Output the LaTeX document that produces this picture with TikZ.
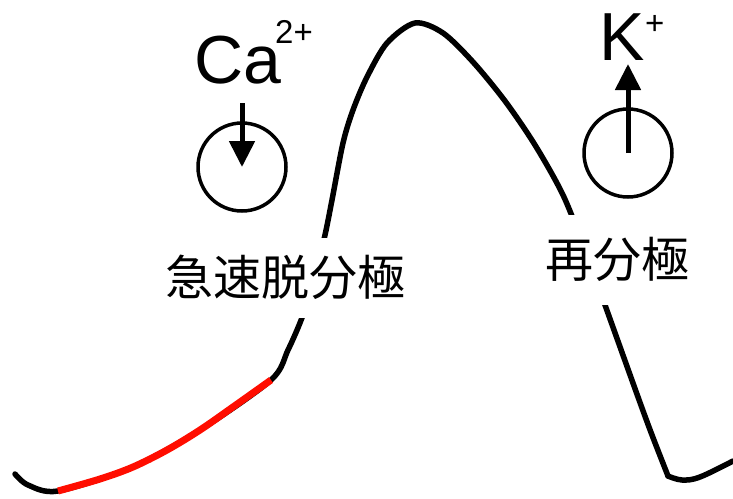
\documentclass[tikz,border=0pt]{standalone}
\usepackage{fontspec}
\setmainfont{Liberation Sans}
\newfontfamily\cjk{Noto Sans CJK JP}
\usetikzlibrary{arrows.meta}
\begin{document}
\begin{tikzpicture}[x=1pt,y=-1pt,
  curve/.style={line width=5.5pt, line cap=round, line join=round},
  ion/.style={inner sep=0pt, anchor=base west, font=\fontsize{68}{68}\selectfont},
  charge/.style={inner sep=0pt, anchor=base west, font=\fontsize{33}{33}\selectfont},
  channel/.style={circle, draw, line width=3.5pt, minimum size=88pt, inner sep=0pt},
  flux/.style={line width=5pt, -{Triangle[length=26pt,width=25pt]}},
  phase/.style={fill=white, inner xsep=4pt, font=\cjk\fontsize{48}{48}\selectfont, text height=40pt, text depth=6pt}]
\useasboundingbox (0,0) rectangle (733,498);
% action potential curve
\draw[curve] plot[smooth, tension=0.5] coordinates {
  (15,474) (28,485) (58,491) (133,467) (200,430) (271,380) (288,350) (303,315)
  (315,275) (325,235) (332,200) (343,143) (353,110) (367,77) (387,43) (415,23)
  (443,33) (473,62) (505,101) (535,145) (563,195) (585,250) (605,305) (638,397)
  (652,435) (668,476)};
\draw[curve] plot[smooth, tension=0.6] coordinates {(668,476) (682,480) (700,477) (733,461)};
% red segment
\draw[line width=7pt, red!90!orange] plot[smooth, tension=0.55] coordinates {
  (58,491) (100,479) (133,467) (167,450) (200,430) (233,407) (271,380)};
% labels hiding the curve
\node[phase, inner ysep=17pt] (dep) at (285,278) {急速脱分極};
\node[phase, inner ysep=22pt] (rep) at (617,260) {再分極};
% Ca channel
\node[ion] (ca) at (194,83) {Ca};
\node[charge] (ca2) at (275,43) {2+};
\node[channel] (cach) at (242,167) {};
\coordinate (castart) at (242,103);
\draw[flux] (castart) -- (cach.center);
% K channel
\node[ion] (k) at (599,60) {K};
\node[charge] (kp) at (645,34) {+};
\node[channel] (kch) at (628,153) {};
\coordinate (kend) at (628,64);
\draw[flux] (kch.center) -- (kend);
\end{tikzpicture}
\end{document}
